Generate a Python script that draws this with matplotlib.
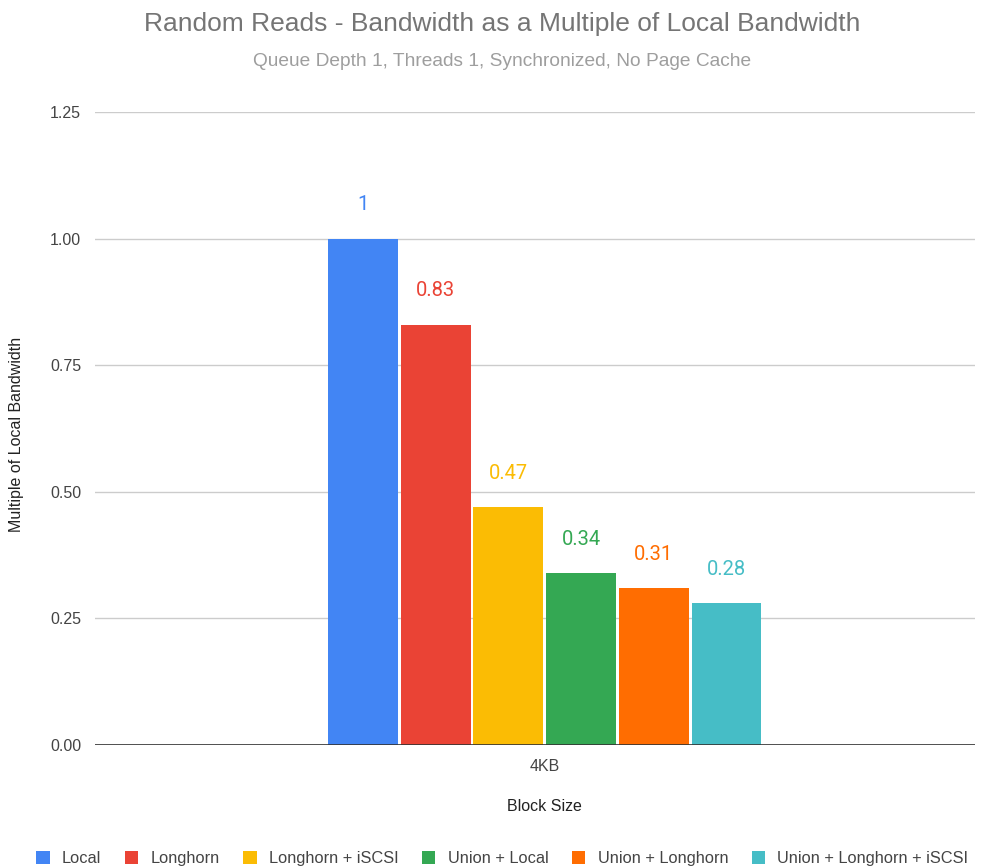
import matplotlib.pyplot as plt
from matplotlib.patches import Patch

plt.rcParams['font.family'] = ['Liberation Sans', 'DejaVu Sans']

# data
series = ['Local', 'Longhorn', 'Longhorn + iSCSI', 'Union + Local',
          'Union + Longhorn', 'Union + Longhorn + iSCSI']
values = [1.0, 0.83, 0.47, 0.34, 0.31, 0.28]
labels = ['1', '0.83', '0.47', '0.34', '0.31', '0.28']
colors = ['#4285F4', '#EA4335', '#FBBC04', '#34A853', '#FF6D01', '#46BDC6']
category = '4KB'

fig = plt.figure(figsize=(9.89, 8.66), dpi=100)
ax = fig.add_axes([0.096, 0.1397, 0.89, 0.731])

pitch = 0.0826
width = 0.0795
shift = 0.011  # group sits a bit right of centre
for i, (name, v) in enumerate(zip(series, values)):
    x = (i - 2.5) * pitch + shift
    ax.bar(x, v, width=width, color=colors[i], zorder=3)
    ax.annotate(labels[i], (x, v), xytext=(0, 17.5), textcoords='offset points',
                ha='center', va='bottom', color=colors[i], fontsize=14.5,
                family=['Roboto', 'DejaVu Sans'])

ax.set_xlim(-0.5, 0.5)
ax.set_ylim(0, 1.25)
ax.set_yticks([0, 0.25, 0.5, 0.75, 1.0, 1.25])
ax.set_yticklabels(['0.00', '0.25', '0.50', '0.75', '1.00', '1.25'])
ax.set_xticks([shift])
ax.set_xticklabels([category])
ax.tick_params(axis='both', length=0, labelsize=11.5, labelcolor='#444444')
ax.tick_params(axis='y', pad=10)
ax.tick_params(axis='x', pad=10)
ax.grid(axis='y', color='#cccccc', linewidth=1, zorder=0)
for s in ax.spines.values():
    s.set_visible(False)
ax.axhline(0, color='#333333', linewidth=1.2, zorder=4)

ax.set_xlabel('Block Size', fontsize=11.5, color='#222222')
ax.xaxis.set_label_coords(0.5 + shift, -0.0855)
ax.set_ylabel('Multiple of Local Bandwidth', fontsize=11.5, color='#222222')
ax.yaxis.set_label_coords(-0.081, 0.49)

fig.text(0.508, 0.972, 'Random Reads - Bandwidth as a Multiple of Local Bandwidth',
         ha='center', va='center', fontsize=19, color='#757575')
fig.text(0.508, 0.929, 'Queue Depth 1, Threads 1, Synchronized, No Page Cache',
         ha='center', va='center', fontsize=13.8, color='#9e9e9e')

handles = [Patch(facecolor=c, edgecolor='none') for c in colors]
leg = fig.legend(handles, series, loc='lower center', bbox_to_anchor=(0.508, -0.017),
                 ncol=6, frameon=False, fontsize=11.8, handlelength=0.8,
                 handleheight=0.8, columnspacing=1.45, handletextpad=0.75)
for t in leg.get_texts():
    t.set_color('#444444')

fig.savefig('out.png', dpi=100)
